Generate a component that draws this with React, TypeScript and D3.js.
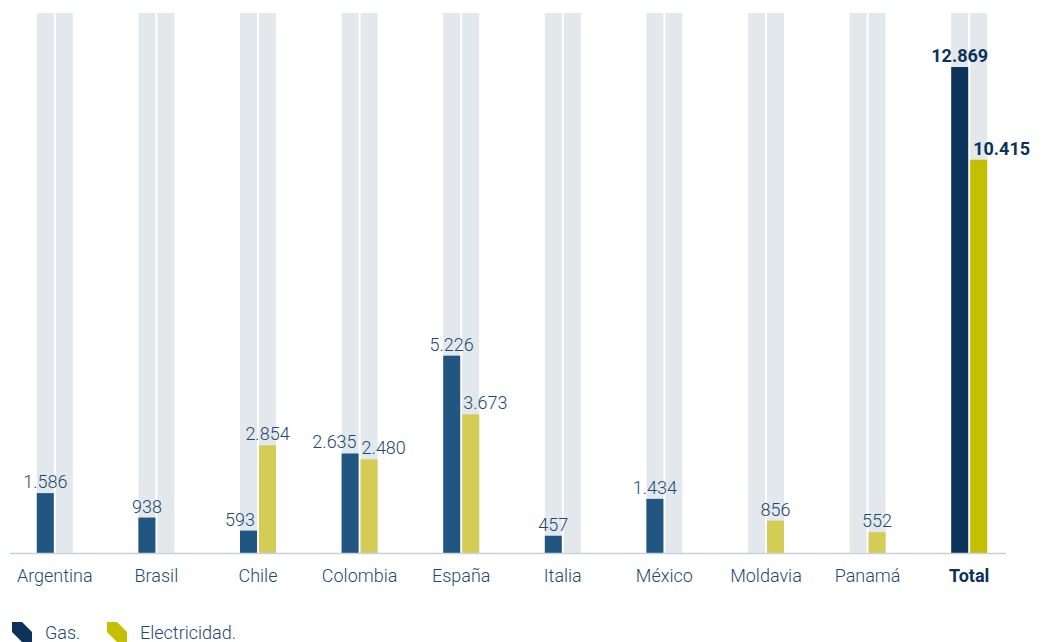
import React from 'react';
import * as d3 from 'd3';

const categories = ['Argentina', 'Brasil', 'Chile', 'Colombia', 'España', 'Italia', 'México', 'Moldavia', 'Panamá', 'Total'];
const gas = [1586, 938, 593, 2635, 5226, 457, 1434, 0, 0, 12869];
const electricidad = [0, 0, 2854, 2480, 3673, 0, 0, 856, 552, 10415];
const legendLabels = ['Gas.', 'Electricidad.'];
const yMax = 14300;

const W = 1050;
const H = 642;
const FONT = 'Roboto, "Noto Sans", sans-serif';
const TEXT = '#1d4a72';
const BG = '#e3e8ec';
const GAS = '#215680';
const ELEC = '#d4cd55';
const GAS_TOTAL = '#0d3259';
const ELEC_TOTAL = '#c2c000';

const fmt = (v: number) => d3.format(',')(v).replace(/,/g, '.');

const App: React.FC = () => {
  const x = d3.scaleBand<string>().domain(categories).range([4, 1020]);
  const y = d3.scaleLinear().domain([0, yMax]).range([553, 13]);
  const barW = 17;
  const gap = 2;

  return (
    <svg width={W} height={H} style={{ position: 'absolute', left: 0, top: 0, display: 'block' }}>
      {categories.map((c, i) => {
        const cx = (x(c) || 0) + x.bandwidth() / 2;
        const gx = cx - gap / 2 - barW;
        const ex = cx + gap / 2;
        const isTotal = c === 'Total';
        const g = gas[i];
        const e = electricidad[i];
        // labels get pushed apart when both bars are about the same height
        let gAnchor = 'middle';
        let gX = gx + barW / 2;
        if (e > 0 && g > 0 && e >= g * 0.9) {
          gAnchor = 'end';
          gX = gx + barW - 2;
        }
        let eAnchor = 'middle';
        let eX = ex + barW / 2;
        if (g > 0 && e > 0 && g >= e) {
          eAnchor = 'start';
          eX = ex + 1;
          if (isTotal) eX = ex + 3;
        }
        const fs = 18;
        const fw = isTotal ? 700 : 300;
        const col = isTotal ? GAS_TOTAL : TEXT;
        return (
          <g key={c}>
            <rect x={gx} y={y(yMax)} width={barW} height={y(0) - y(yMax)} fill={BG} />
            <rect x={ex} y={y(yMax)} width={barW} height={y(0) - y(yMax)} fill={BG} />
            {g > 0 && (
              <rect x={gx} y={y(g)} width={barW} height={y(0) - y(g)} fill={isTotal ? GAS_TOTAL : GAS} />
            )}
            {e > 0 && (
              <rect x={ex} y={y(e)} width={barW} height={y(0) - y(e)} fill={isTotal ? ELEC_TOTAL : ELEC} />
            )}
            {g > 0 && (
              <text x={gX} y={y(g) - 5} textAnchor={gAnchor} fontFamily={FONT} fontSize={fs}
                fontWeight={fw} fill={col}>{fmt(g)}</text>
            )}
            {e > 0 && (
              <text x={eX} y={y(e) - 5} textAnchor={eAnchor} fontFamily={FONT} fontSize={fs}
                fontWeight={fw} fill={col}>{fmt(e)}</text>
            )}
            <text x={cx} y={582} textAnchor="middle" fontFamily={FONT} fontSize={fs}
              fontWeight={fw} fill={col}>{c}</text>
          </g>
        );
      })}
      <line x1={10} x2={1006} y1={y(0) + 0.5} y2={y(0) + 0.5} stroke="#c5d3df" strokeWidth={1.5} />
      {legendLabels.map((l, i) => {
        const lx = 12 + i * 95;
        const ly = 622;
        const pts = [[lx, ly], [lx + 10, ly], [lx + 20, ly + 10], [lx + 20, ly + 20], [lx + 10, ly + 20], [lx, ly + 10]];
        return (
          <g key={l}>
            <polygon points={pts.map(p => p.join(',')).join(' ')} fill={i === 0 ? GAS_TOTAL : ELEC_TOTAL} />
            <text x={lx + 33} y={639} fontFamily={FONT} fontSize={18} fontWeight={300} fill={TEXT}>{l}</text>
          </g>
        );
      })}
    </svg>
  );
};

export default App;
